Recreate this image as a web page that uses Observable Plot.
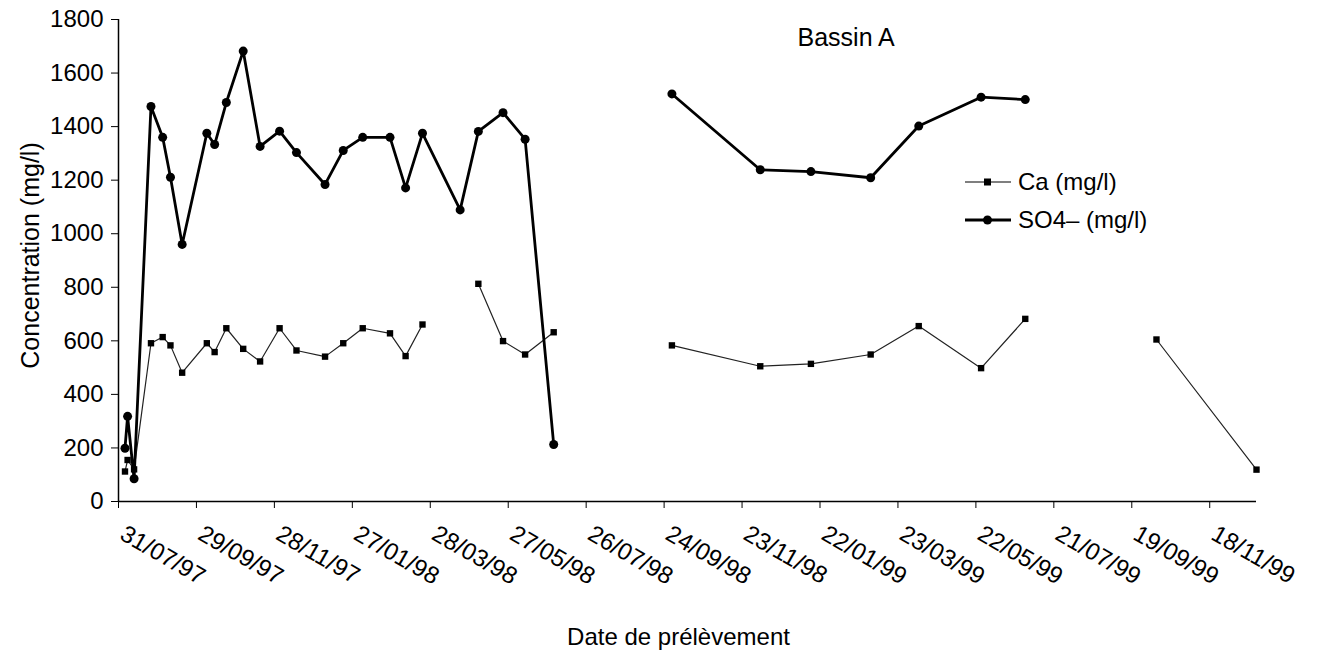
<!DOCTYPE html>
<html><head><meta charset="utf-8">
<script src="https://cdn.jsdelivr.net/npm/d3@7"></script>
<script src="https://cdn.jsdelivr.net/npm/@observablehq/plot@0.6"></script>
<style>
html,body{margin:0;padding:0;background:#fff;}
#chart{position:relative;width:1327px;height:652px;}
</style></head><body><div id="chart"></div>
<script>
// Sampling dates (blank rows produce the gaps in the lines)
const sampleDates = [
  "1997-08-05","1997-08-07","1997-08-12","1997-08-25","1997-09-03","1997-09-09","1997-09-18",
  "1997-10-07","1997-10-13","1997-10-22","1997-11-04","1997-11-17","1997-12-02","1997-12-15",
  "1998-01-06","1998-01-20","1998-02-04","1998-02-25","1998-03-09","1998-03-22","1998-04-20",
  "1998-05-04","1998-05-23","1998-06-09","1998-07-01","1998-08-15","1998-09-30","1998-12-07",
  "1999-01-15","1999-03-02","1999-04-08","1999-05-26","1999-06-29","1999-08-15","1999-10-08",
  "1999-12-24"
];
const caValues = [
  112,155,120,591,614,583,481,591,558,647,570,523,647,564,541,591,647,628,543,661,null,
  813,599,549,632,null,583,505,514,549,655,498,682,null,605,119
];
const so4Values = [
  199,318,85,1475,1360,1211,960,1375,1333,1490,1682,1326,1383,1303,1184,1311,1360,1360,1171,1375,1089,
  1382,1452,1353,213,null,1522,1239,1232,1209,1402,1510,1501,null,null,null
];
const xTickLabels = ["31/07/97","29/09/97","28/11/97","27/01/98","28/03/98","27/05/98","26/07/98",
  "24/09/98","23/11/98","22/01/99","23/03/99","22/05/99","21/07/99","19/09/99","18/11/99"];
const yTicks = [0,200,400,600,800,1000,1200,1400,1600,1800];
const seriesNames = ["Ca (mg/l)", "SO4\u2013 (mg/l)"];
const titleText = "Bassin A";
const xTitle = "Date de prélèvement";
const yTitle = "Concentration (mg/l)";
const xDomainEnd = "1999-12-24";

const parse = d3.utcParse("%d/%m/%y");
const fmt = d3.utcFormat("%d/%m/%y");
const tickDates = xTickLabels.map(parse);
const rows = sampleDates.map((d, i) => ({date: new Date(d), ca: caValues[i], so4: so4Values[i]}));
const FONT = '"Liberation Sans", Arial, Helvetica, sans-serif';

function legendMark() {
  const g = d3.create("svg:g").attr("font-family", FONT).attr("font-size", 24).attr("text-anchor", "start");
  const items = [
    {name: seriesNames[0], y: 182, sw: 1.2, sym: "square"},
    {name: seriesNames[1], y: 220, sw: 2.8, sym: "circle"}
  ];
  for (const it of items) {
    g.append("line").attr("x1", 965).attr("x2", 1011).attr("y1", it.y).attr("y2", it.y)
      .attr("stroke", "black").attr("stroke-width", it.sw);
    if (it.sym === "square") g.append("rect").attr("x", 984).attr("y", it.y - 3.5).attr("width", 7).attr("height", 7).attr("fill", "black");
    else g.append("circle").attr("cx", 987.5).attr("cy", it.y).attr("r", 4.5).attr("fill", "black");
    g.append("text").attr("x", 1018).attr("y", it.y).attr("dy", "0.35em").attr("text-anchor", "start").attr("fill", "black").text(it.name);
  }
  return g.node();
}

const chart = Plot.plot({
  width: 1327, height: 652,
  marginLeft: 118, marginRight: 71, marginTop: 19, marginBottom: 151,
  style: {fontFamily: FONT, fontSize: "24px", color: "black", background: "white", overflow: "visible"},
  x: {type: "utc", domain: [parse("31/07/97"), new Date(xDomainEnd)]},
  y: {domain: [0, 1800]},
  marks: [
    Plot.axisY({ticks: yTicks, tickSize: 7, tickPadding: 8, label: null, fontSize: 24, tickFormat: d => String(d)}),
    Plot.axisX({ticks: tickDates, tickFormat: fmt, tickSize: 7, tickRotate: 30, textAnchor: "start", lineAnchor: "bottom", tickPadding: 30, label: null, fontSize: 24}),
    Plot.ruleX([parse("31/07/97")], {stroke: "black", strokeWidth: 1.5}),
    Plot.ruleY([0], {stroke: "black", strokeWidth: 1.5}),
    Plot.line(rows, {x: "date", y: "ca", stroke: "#222", strokeWidth: 1.2}),
    Plot.dot(rows, {x: "date", y: "ca", symbol: "square", r: 3.6, fill: "black"}),
    Plot.line(rows, {x: "date", y: "so4", stroke: "black", strokeWidth: 2.8}),
    Plot.dot(rows, {x: "date", y: "so4", r: 4.5, fill: "black"}),
    Plot.text([titleText], {frameAnchor: "top-left", dx: 797 - 118, dy: 37 - 19, textAnchor: "start", lineAnchor: "middle", fontSize: 25}),
    Plot.text([xTitle], {frameAnchor: "bottom", dx: -9, dy: 136, textAnchor: "middle", lineAnchor: "middle", fontSize: 24}),
    Plot.text([yTitle], {frameAnchor: "left", dx: -88, dy: -5, rotate: -90, textAnchor: "middle", lineAnchor: "middle", fontSize: 25}),
    legendMark
  ]
});
document.getElementById("chart").appendChild(chart);
</script>
</body></html>
